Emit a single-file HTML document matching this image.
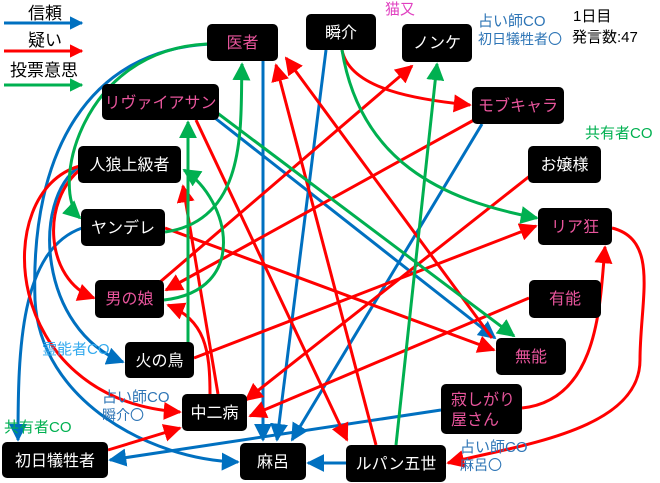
<!DOCTYPE html>
<html><head><meta charset="utf-8"><style>
body{margin:0;background:#fff;}
svg{display:block;font-family:"Liberation Sans","Noto Sans CJK JP",sans-serif;}
.n{fill:#000;}
.w{fill:#fff;font-size:16px;}
.p{fill:#e8559c;font-size:16px;}
</style></head><body>
<svg width="660" height="483" viewBox="0 0 660 483" xmlns="http://www.w3.org/2000/svg">
<defs>
<marker id="b" viewBox="0 0 10 10" refX="9" refY="5" markerWidth="6" markerHeight="6" orient="auto"><path d="M0,0L10,5L0,10z" fill="#0070c0"/></marker>
<marker id="r" viewBox="0 0 10 10" refX="9" refY="5" markerWidth="6" markerHeight="6" orient="auto"><path d="M0,0L10,5L0,10z" fill="#ff0000"/></marker>
<marker id="g" viewBox="0 0 10 10" refX="9" refY="5" markerWidth="6" markerHeight="6" orient="auto"><path d="M0,0L10,5L0,10z" fill="#00b050"/></marker>
<marker id="bl" viewBox="0 0 10 10" refX="9" refY="5" markerWidth="4.5" markerHeight="4.5" orient="auto"><path d="M0,0L10,5L0,10z" fill="#0070c0"/></marker>
<marker id="rl" viewBox="0 0 10 10" refX="9" refY="5" markerWidth="4.5" markerHeight="4.5" orient="auto"><path d="M0,0L10,5L0,10z" fill="#ff0000"/></marker>
<marker id="gl" viewBox="0 0 10 10" refX="9" refY="5" markerWidth="4.5" markerHeight="4.5" orient="auto"><path d="M0,0L10,5L0,10z" fill="#00b050"/></marker>
</defs>
<!-- legend -->
<text x="28" y="19" font-size="17" fill="#000">信頼</text>
<line x1="4" y1="23" x2="82" y2="23" stroke="#0070c0" stroke-width="3" marker-end="url(#bl)"/>
<text x="28" y="46" font-size="17" fill="#000">疑い</text>
<line x1="4" y1="51" x2="82" y2="51" stroke="#ff0000" stroke-width="3" marker-end="url(#rl)"/>
<text x="10" y="76" font-size="17" fill="#000">投票意思</text>
<line x1="4" y1="85" x2="82" y2="85" stroke="#00b050" stroke-width="3" marker-end="url(#gl)"/>

<g fill="none" stroke-width="3">
<g stroke="#0070c0" marker-end="url(#b)">
<path d="M210,44 C90,50 30,150 35,300 C40,400 150,460 238,462"/>
<path d="M80,166 C30,200 40,330 123,362"/>
<path d="M82,228 C20,250 18,350 18,440"/>
<path d="M263,61 L263,440"/>
<path d="M326,50 L277,440"/>
<path d="M215,118 L495,338"/>
<path d="M482,124 L292,440"/>
<path d="M346,463 L308,463"/>
<path d="M441,410 L110,460"/>
</g>
<g stroke="#ff0000" marker-end="url(#r)">
<path d="M492,338 L286,58"/>
<path d="M376,445 L276,65"/>
<path d="M342,50 C350,90 420,100 470,105"/>
<path d="M160,282 L412,66"/>
<path d="M474,120 L166,290"/>
<path d="M531,175 L246,400"/>
<path d="M529,298 L250,416"/>
<path d="M194,358 L536,226"/>
<path d="M165,228 L494,350"/>
<path d="M196,120 L347,440"/>
<path d="M80,166 C-10,190 0,400 180,412"/>
<path d="M82,168 C40,200 45,280 94,298"/>
<path d="M108,450 L180,428"/>
<path d="M522,408 C600,400 600,300 605,247"/>
<path d="M612,228 C660,240 640,300 640,360 C640,430 520,445 448,463"/>
<path d="M218,394 L183,186"/>
<path d="M210,394 C210,350 205,320 168,305"/>
</g>
<g stroke="#00b050" marker-end="url(#g)">
<path d="M207,44 C80,50 50,190 80,218"/>
<path d="M165,232 C250,220 240,120 242,64"/>
<path d="M188,342 L188,122"/>
<path d="M164,300 C250,290 230,200 184,170"/>
<path d="M342,50 C360,160 440,200 537,218"/>
<path d="M396,445 L437,64"/>
<path d="M216,112 L514,336"/>
</g>
</g>

<g>
<rect class="n" x="207" y="24" width="71" height="37" rx="5"/><text class="p" x="242.5" y="48" text-anchor="middle">医者</text>
<rect class="n" x="306" y="14" width="70" height="36" rx="5"/><text class="w" x="341" y="38" text-anchor="middle">瞬介</text>
<rect class="n" x="402" y="24" width="70" height="38" rx="5"/><text class="w" x="437" y="48" text-anchor="middle">ノンケ</text>
<rect class="n" x="472" y="87" width="92" height="37" rx="5"/><text class="p" x="518" y="111" text-anchor="middle">モブキャラ</text>
<rect class="n" x="102" y="84" width="117" height="36" rx="5"/><text class="p" x="160.5" y="108" text-anchor="middle">リヴァイアサン</text>
<rect class="n" x="78" y="146" width="103" height="37" rx="5"/><text class="w" x="129.5" y="170" text-anchor="middle">人狼上級者</text>
<rect class="n" x="528" y="146" width="73" height="37" rx="5"/><text class="w" x="564.5" y="170" text-anchor="middle">お嬢様</text>
<rect class="n" x="81" y="209" width="84" height="37" rx="5"/><text class="w" x="123" y="233" text-anchor="middle">ヤンデレ</text>
<rect class="n" x="538" y="208" width="74" height="37" rx="5"/><text class="p" x="575" y="232" text-anchor="middle">リア狂</text>
<rect class="n" x="95" y="280" width="69" height="38" rx="5"/><text class="p" x="129.5" y="304" text-anchor="middle">男の娘</text>
<rect class="n" x="529" y="280" width="72" height="38" rx="5"/><text class="p" x="565" y="304" text-anchor="middle">有能</text>
<rect class="n" x="125" y="342" width="69" height="36" rx="5"/><text class="w" x="159.5" y="366" text-anchor="middle">火の鳥</text>
<rect class="n" x="496" y="338" width="70" height="37" rx="5"/><text class="p" x="531" y="362" text-anchor="middle">無能</text>
<rect class="n" x="441" y="384" width="81" height="50" rx="5"/><text class="p" x="451" y="405">寂しがり</text><text class="p" x="451" y="425">屋さん</text>
<rect class="n" x="182" y="394" width="65" height="37" rx="5"/><text class="w" x="214.5" y="418" text-anchor="middle">中二病</text>
<rect class="n" x="2" y="442" width="106" height="36" rx="5"/><text class="w" x="55" y="466" text-anchor="middle">初日犠牲者</text>
<rect class="n" x="240" y="443" width="66" height="37" rx="5"/><text class="w" x="273" y="467" text-anchor="middle">麻呂</text>
<rect class="n" x="346" y="445" width="100" height="37" rx="5"/><text class="w" x="396" y="469" text-anchor="middle">ルパン五世</text>
</g>

<text x="385" y="14" font-size="15" fill="#e040c0">猫又</text>
<text x="478" y="26" font-size="15" fill="#2e75b6">占い師CO</text>
<text x="478" y="44" font-size="14" fill="#2e75b6">初日犠牲者〇</text>
<text x="573" y="21" font-size="15" fill="#000">1日目</text>
<text x="572" y="42" font-size="15" fill="#000">発言数:47</text>
<text x="585" y="138" font-size="15" fill="#00b050">共有者CO</text>
<text x="42" y="354" font-size="15" fill="#33aaee">霊能者CO</text>
<text x="102" y="402" font-size="15" fill="#2e75b6">占い師CO</text>
<text x="102" y="420" font-size="14" fill="#2e75b6">瞬介〇</text>
<text x="4" y="432" font-size="15" fill="#00b050">共有者CO</text>
<text x="460" y="452" font-size="15" fill="#2e75b6">占い師CO</text>
<text x="460" y="470" font-size="14" fill="#2e75b6">麻呂〇</text>
</svg>
</body></html>
